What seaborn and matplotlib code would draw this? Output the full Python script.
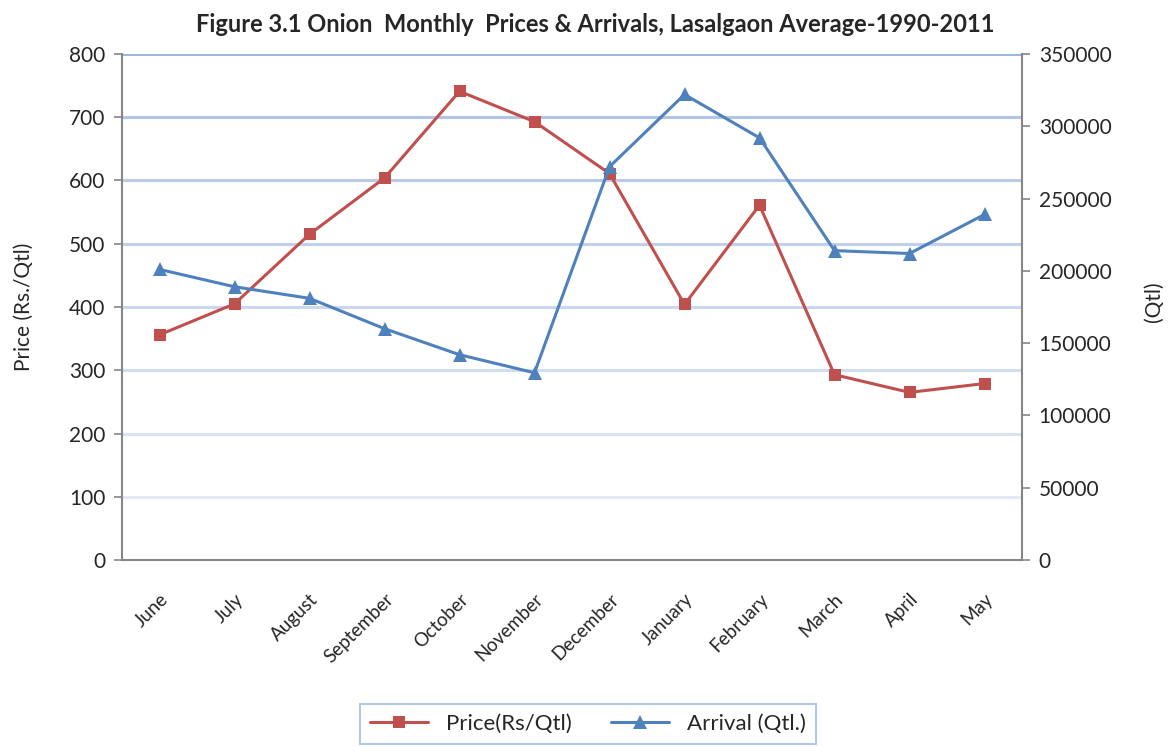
import numpy as np
import pandas as pd
import matplotlib
matplotlib.use("Agg")
import matplotlib.pyplot as plt
import seaborn as sns

months = ["June", "July", "August", "September", "October", "November",
          "December", "January", "February", "March", "April", "May"]
price = [356, 405, 515, 604, 741, 693, 611, 404, 561, 293, 265, 279]
arrival = [201000, 189000, 181000, 160000, 142000, 129500,
           272000, 322000, 292000, 214000, 212000, 239000]
price_ticks = [0, 100, 200, 300, 400, 500, 600, 700, 800]
arrival_ticks = [0, 50000, 100000, 150000, 200000, 250000, 300000, 350000]

sns.set_style("white")
plt.rcParams["font.family"] = ["Lato", "DejaVu Sans"]

df = pd.DataFrame({"pos": np.arange(len(months)), "month": months,
                   "price": price, "arrival": arrival})

W, H = 1173, 747
fig = plt.figure(figsize=(W / 100, H / 100), dpi=100)
ax = fig.add_axes([122 / W, 1 - 560 / H, 900 / W, 506 / H])
ax2 = ax.twinx()

red = "#c0504d"
blue = "#4f81bd"
gray = "#868686"

sns.lineplot(data=df, x="pos", y="price", ax=ax, color=red, marker="s",
             markersize=9, markeredgewidth=0, linewidth=2.2, sort=False,
             label="Price(Rs/Qtl)", legend=False)
sns.lineplot(data=df, x="pos", y="arrival", ax=ax2, color=blue, marker="^",
             markersize=10, markeredgewidth=0, linewidth=2.2, sort=False,
             label="Arrival (Qtl.)", legend=False)

ax.set_xlim(-0.5, len(months) - 0.5)
ax.set_ylim(0, 800)
ax2.set_ylim(0, 350000)
ax.set_yticks(price_ticks)
ax2.set_yticks(arrival_ticks)
ax2.set_yticklabels([str(t) for t in arrival_ticks])

ax.set_xticks(df["pos"])
ax.set_xticklabels(months, rotation=45, ha="right", rotation_mode="anchor",
                   fontsize=13.5)
ax.set_xticks(np.arange(-0.5, len(months), 1), minor=True)
ax.tick_params(axis="x", which="major", length=0, pad=22)
ax.tick_params(axis="x", which="minor", length=6, width=1.2, color=gray,
               direction="out")
ax.tick_params(axis="y", length=6, width=1.2, color=gray, direction="out",
               labelsize=15, pad=6)
ax2.tick_params(axis="y", length=6, width=1.2, color=gray, direction="out",
                labelsize=15, pad=6)

grid_cols = ["#ffffff", "#e3eaf6", "#dae3f3", "#d2ddf0", "#cad7ee",
             "#c2d1eb", "#bacbe9", "#b2c5e6", "#9bb7e2"]
for t, c in zip(price_ticks, grid_cols):
    if t > 0:
        ax.axhline(t, color=c, linewidth=2.2, zorder=0.5)

for a in (ax, ax2):
    a.spines["top"].set_visible(False)
    for s in ["left", "right", "bottom"]:
        a.spines[s].set_color(gray)
        a.spines[s].set_linewidth(1.5)
ax2.spines["left"].set_visible(False)
ax2.spines["bottom"].set_visible(False)
ax.spines["right"].set_visible(False)

ax.set_xlabel("")
ax.set_ylabel("Price (Rs./Qtl)", fontsize=15)
ax2.set_ylabel("(Qtl)", fontsize=15)
ax.yaxis.set_label_coords(-0.098, 0.5)
ax2.yaxis.set_label_coords(1.135, 0.51)

fig.text(595 / W, 1 - 25 / H,
         "Figure 3.1 Onion  Monthly  Prices & Arrivals, Lasalgaon Average-1990-2011",
         ha="center", va="center", fontsize=17, fontweight="bold")

h1, l1 = ax.get_legend_handles_labels()
h2, l2 = ax2.get_legend_handles_labels()
leg = fig.legend(h1 + h2, l1 + l2, loc="upper center",
                 bbox_to_anchor=(588 / W, 1 - 704 / H), ncol=2, fontsize=16,
                 frameon=True, fancybox=False, borderpad=0.45,
                 handlelength=2.6, columnspacing=1.8, borderaxespad=0)
leg.get_frame().set_edgecolor("#95b3d7")
leg.get_frame().set_linewidth(1.3)

fig.savefig("out.png", dpi=100)
